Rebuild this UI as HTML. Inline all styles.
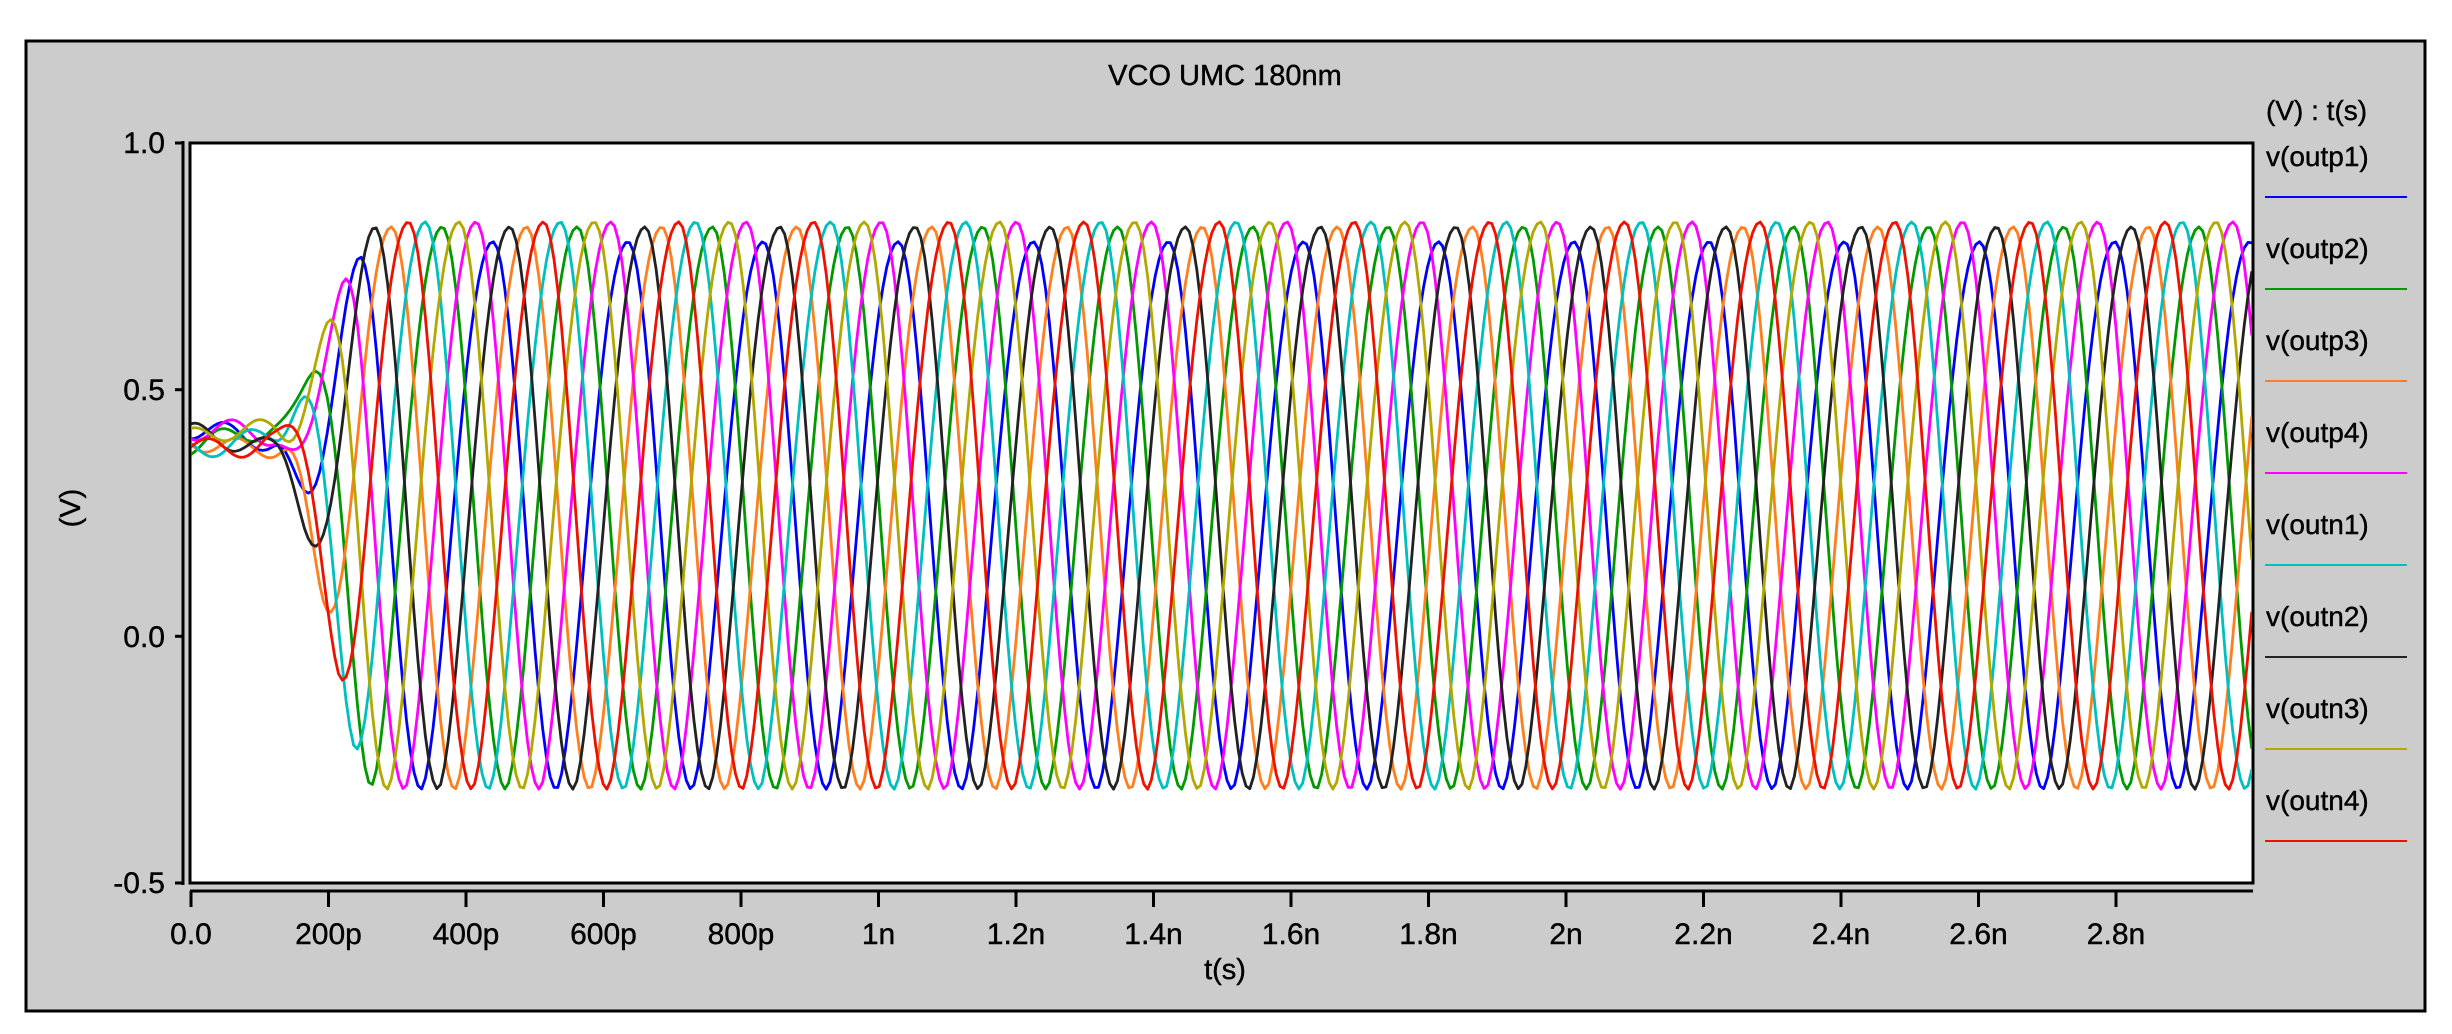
<!DOCTYPE html>
<html><head><meta charset="utf-8"><style>
body{margin:0;background:#fff}
svg text{font-family:"Liberation Sans",Arial,sans-serif;fill:#000;stroke:#000;stroke-width:0.4}
</style></head><body>
<svg id="s" width="2452" height="1029" xmlns="http://www.w3.org/2000/svg">
<rect x="0" y="0" width="2452" height="1029" fill="#fff"/>
<rect x="26" y="41" width="2399" height="970" fill="#cccccc" stroke="#000" stroke-width="3"/>
<text x="1225" y="85" font-size="29" text-anchor="middle">VCO UMC 180nm</text>
<rect x="190" y="143" width="2063" height="740" fill="#fff" stroke="#000" stroke-width="3"/>
<g stroke="#000" stroke-width="3" fill="none">
<line x1="183" y1="141" x2="183" y2="885"/>
<line x1="175" y1="143" x2="183" y2="143"/>
<line x1="175" y1="389.7" x2="183" y2="389.7"/>
<line x1="175" y1="636.3" x2="183" y2="636.3"/>
<line x1="175" y1="883" x2="183" y2="883"/>
<line x1="190" y1="891" x2="2253" y2="891"/>
</g>
<g font-size="30" text-anchor="end">
<text x="165" y="153">1.0</text>
<text x="165" y="400">0.5</text>
<text x="165" y="647">0.0</text>
<text x="165" y="893">-0.5</text>
</g>
<text transform="translate(80,508) rotate(-90)" font-size="29" text-anchor="middle">(V)</text>
<text x="1225" y="979" font-size="29" text-anchor="middle">t(s)</text>
<g id="xt" font-size="30" text-anchor="middle"></g>
<defs><clipPath id="cp"><rect x="191" y="144" width="2061" height="738"/></clipPath></defs>
<g id="wv" clip-path="url(#cp)" fill="none" stroke-width="2.8" stroke-linejoin="round"></g>
<text x="2266" y="120" font-size="28">(V) : t(s)</text>
<g id="lg" font-size="28"></g>
</svg>
<script>
var NS="http://www.w3.org/2000/svg";
function el(t,a,p,txt){var e=document.createElementNS(NS,t);for(var k in a)e.setAttribute(k,a[k]);if(txt)e.textContent=txt;p.appendChild(e);return e;}
var X0=191,PX=687.5;
function yv(v){return 636.3-v*493.3;}
var xt=document.getElementById("xt"),sv=document.getElementById("s");
var labs=["0.0","200p","400p","600p","800p","1n","1.2n","1.4n","1.6n","1.8n","2n","2.2n","2.4n","2.6n","2.8n"];
for(var i=0;i<labs.length;i++){var x=X0+i*0.2*PX;
 el("line",{x1:x,y1:891,x2:x,y2:907,stroke:"#000","stroke-width":3},sv);
 el("text",{x:x,y:944},xt,labs[i]);}
var S=[["v(outp1)","#0000ff",0,0.80],["v(outp2)","#009900",5,0.83],["v(outp3)","#ff7f1f",2,0.83],["v(outp4)","#ff00ff",7,0.84],
["v(outn1)","#00bfbf",4,0.84],["v(outn2)","#222222",1,0.83],["v(outn3)","#b3a800",6,0.84],["v(outn4)","#ee1100",3,0.84]];
var lg=document.getElementById("lg"),wv=document.getElementById("wv");
var T=0.1966,t0=0.439;
function ss(a,b,t){var u=Math.min(1,Math.max(0,(t-a)/(b-a)));return u*u*(3-2*u);}
for(var k=0;k<S.length;k++){
 var s=S[k];
 el("text",{x:2266,y:166+k*92},lg,s[0]);
 el("line",{x1:2265,y1:197+k*92,x2:2407,y2:197+k*92,stroke:s[1],"stroke-width":2},lg);
 var pts=[],ph=s[2],pk=s[3];
 for(var t=0;t<=3.0001;t+=0.0055){
  var w=0.4+0.04*Math.sin(t*40+ph*1.7)*Math.sin(t*23+ph*0.9);
  var p=(t-t0-ph*T/8)/T; p=p-Math.floor(p);
  var f;
  if(p<0.47){f=Math.cos(Math.PI*p/0.47);}
  else{var q=(p-0.47)/0.53;f=-Math.cos(Math.PI*Math.pow(q,0.85));}
  var lo=-0.31;
  var osc=lo+(pk-lo)*(f+1)/2;
  var e=ss(0.12,0.27,t);
  var v=(1-e)*w+e*osc;
  pts.push((X0+t*PX).toFixed(1)+","+yv(v).toFixed(1));
 }
 el("polyline",{points:pts.join(" "),stroke:s[1]},wv);
}
</script>
</body></html>
